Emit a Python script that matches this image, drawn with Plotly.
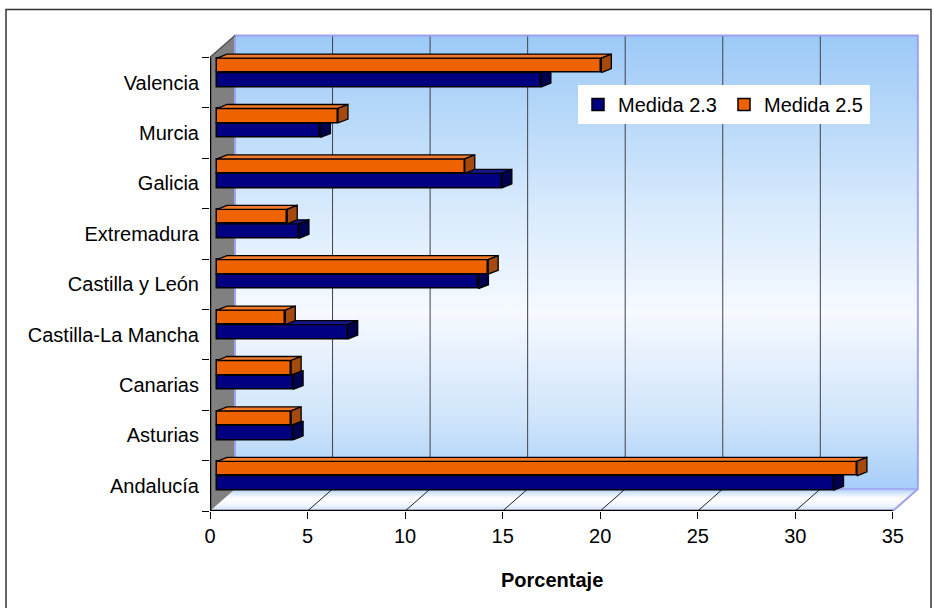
import plotly.graph_objects as go

# ---- data -----------------------------------------------------------------
regions = ["Andalucía", "Asturias", "Canarias", "Castilla-La Mancha",
           "Castilla y León", "Extremadura", "Galicia", "Murcia", "Valencia"]
medida_23 = [31.6, 3.9, 3.9, 6.7, 13.4, 4.2, 14.6, 5.3, 16.6]
medida_25 = [32.8, 3.8, 3.8, 3.5, 13.9, 3.6, 12.7, 6.2, 19.7]
x_ticks = [0, 5, 10, 15, 20, 25, 30, 35]
series_names = ["Medida 2.3", "Medida 2.5"]

# ---- geometry of the pseudo-3D box (pixels -> data units) -----------------
W, H = 934, 608
PX_X = 19.51          # pixels per percentage point
PX_Y = 50.4           # pixels per category slot
FRONT_LEFT, FRONT_BOTTOM = 210, 511
DEPTH_X, DEPTH_Y = 25, 22   # depth of the box in pixels
DX, DY = DEPTH_X / PX_X, DEPTH_Y / PX_Y
XMAX = x_ticks[-1]
n = len(regions)
Y_LO, Y_HI = -0.5, n - 0.5
PAD_X, PAD_Y = 2 / PX_X, 2 / PX_Y

x_range = [0, XMAX + DX + PAD_X]
y_range = [Y_LO, Y_HI + DY + PAD_Y]
dom_x = [FRONT_LEFT / W, (FRONT_LEFT + (x_range[1] - x_range[0]) * PX_X) / W]
dom_y = [1 - FRONT_BOTTOM / H,
         1 - (FRONT_BOTTOM - (y_range[1] - y_range[0]) * PX_Y) / H]

# bar plane sits a little inside the box
BX, BY = 7 / PX_X, 10 / PX_Y
BW = 14.5 / PX_Y      # bar thickness
CX, CY = 10 / PX_X, 4 / PX_Y   # bar depth

FONT = "Liberation Sans, Arial, sans-serif"
FS = 20
LAVENDER = "#A0A0F0"

fig = go.Figure()


def poly(xs, ys, fill, line_color=None, line_width=0, axes=("x", "y")):
    fig.add_trace(go.Scatter(
        x=xs, y=ys, mode="lines", fill="toself", fillcolor=fill,
        line=dict(color=line_color or fill, width=line_width),
        hoverinfo="skip", showlegend=False, xaxis=axes[0], yaxis=axes[1]))


def seg(xs, ys, color, width, axes=("x", "y")):
    fig.add_trace(go.Scatter(
        x=xs, y=ys, mode="lines", line=dict(color=color, width=width),
        hoverinfo="skip", showlegend=False, xaxis=axes[0], yaxis=axes[1]))


# back wall with vertical gradient
bx0, bx1 = DX, XMAX + DX
by0, by1 = Y_LO + DY, Y_HI + DY
fig.add_trace(go.Scatter(
    x=[bx0, bx1, bx1, bx0, bx0], y=[by0, by0, by1, by1, by0],
    mode="lines", line=dict(width=0), fill="toself",
    fillgradient=dict(type="vertical", start=by0, stop=by1,
                      colorscale=[[0.0, "#A6CEF8"], [0.15, "#CFE4FB"],
                                  [0.39, "#F6FAFF"], [0.63, "#D6E9FC"],
                                  [1.0, "#9CC9F7"]]),
    hoverinfo="skip", showlegend=False))

# floor with gradient
fig.add_trace(go.Scatter(
    x=[0, XMAX, XMAX + DX, DX, 0], y=[Y_LO, Y_LO, by0, by0, Y_LO],
    mode="lines", line=dict(width=0), fill="toself",
    fillgradient=dict(type="vertical", start=Y_LO, stop=by0,
                      colorscale=[[0.0, "#D0DEFA"], [0.3, "#F2F7FF"],
                                  [0.55, "#FFFFFF"], [0.8, "#D8E9FC"],
                                  [1.0, "#A8CEF6"]]),
    hoverinfo="skip", showlegend=False))

# left side wall
poly([0, DX, DX, 0, 0], [Y_LO, by0, by1, Y_HI, Y_LO], "#808080")

# gridlines on back wall and floor
gx, gy, fx, fy = [], [], [], []
for v in x_ticks[1:-1]:
    gx += [v + DX, v + DX, None]
    gy += [by0, by1, None]
    fx += [v, v + DX, None]
    fy += [Y_LO, by0, None]
seg(gx, gy, "#404048", 1)
seg(fx, fy, "#202020", 1)

# lavender edges of the box
seg([DX, DX, bx1, bx1, XMAX], [by0, by1, by1, by0, Y_LO], LAVENDER, 2)
seg([DX, bx1], [by0, by0], LAVENDER, 1.5)
# dark top edge of the side wall
seg([0, DX], [Y_HI, by1], "#404040", 1.2)
# front axis lines
seg([0, 0, XMAX], [Y_HI, Y_LO, Y_LO], "black", 2.5)


# ---- bars -------------------------------------------------------------------
def add_series(vals, name, front, top, cap, offset, axes):
    pos = [i + BY for i in range(n)]
    fig.add_trace(go.Bar(
        x=vals, y=pos, base=BX, orientation="h", width=BW, offset=offset,
        name=name, marker=dict(color=front, line=dict(color="black", width=1.5)),
        xaxis=axes[0], yaxis=axes[1], hovertemplate="%{x}<extra>" + name + "</extra>"))
    tx, ty, kx, ky = [], [], [], []
    for v, p in zip(vals, pos):
        ya, yb = p + offset, p + offset + BW
        x0, x1 = BX, BX + v
        tx += [x0, x1, x1 + CX, x0 + CX, x0, None]
        ty += [yb, yb, yb + CY, yb + CY, yb, None]
        kx += [x1, x1 + CX, x1 + CX, x1, x1, None]
        ky += [ya, ya + CY, yb + CY, yb, ya, None]
    poly(tx, ty, top, "black", 1.3, axes)
    poly(kx, ky, cap, "black", 1.3, axes)


add_series(medida_23, series_names[0], "#000080", "#16168C", "#00004E", -BW, ("x2", "y2"))
add_series(medida_25, series_names[1], "#EF6200", "#F47A2A", "#A44A0E", 0, ("x3", "y3"))

# ---- layout -----------------------------------------------------------------
overlay_axis = dict(overlaying="x", range=x_range, visible=False, fixedrange=True)
fig.update_layout(
    width=W, height=H,
    margin=dict(l=0, r=0, t=0, b=0),
    template="none",
    paper_bgcolor="white", plot_bgcolor="rgba(0,0,0,0)",
    font=dict(family=FONT, size=FS, color="black"),
    showlegend=True,
    legend=dict(orientation="h", x=578 / W, y=1 - 85 / H, xanchor="left",
                yanchor="top", bgcolor="white", borderwidth=0,
                entrywidth=101, entrywidthmode="pixels",
                font=dict(family=FONT, size=FS, color="black"),
                traceorder="normal"),
    xaxis=dict(domain=dom_x, range=x_range, showgrid=False, zeroline=False,
               showline=False, tickmode="array", tickvals=x_ticks,
               ticks="outside", ticklen=7, tickwidth=1, tickcolor="black",
               tickfont=dict(family=FONT, size=FS), automargin=False),
    yaxis=dict(domain=dom_y, range=y_range, showgrid=False, zeroline=False,
               showline=False, tickmode="array", tickvals=list(range(n)),
               ticktext=regions, ticks="", ticklabelstandoff=10,
               tickfont=dict(family=FONT, size=FS), automargin=False,
               minor=dict(tickmode="array",
                          tickvals=[i - 0.5 for i in range(n + 1)],
                          ticks="outside", ticklen=7, tickwidth=1,
                          tickcolor="black")),
    xaxis2=dict(overlay_axis),
    yaxis2=dict(overlaying="y", range=y_range, visible=False, fixedrange=True),
    xaxis3=dict(overlay_axis),
    yaxis3=dict(overlaying="y", range=y_range, visible=False, fixedrange=True),
    bargap=0,
    annotations=[dict(text="<b>Porcentaje</b>", xref="paper", yref="paper",
                      x=552 / W, y=1 - 580 / H, xanchor="center",
                      yanchor="middle", showarrow=False,
                      font=dict(family=FONT, size=FS, color="black"))],
    shapes=[dict(type="rect", xref="paper", yref="paper",
                 x0=6 / W, x1=931 / W, y0=-0.05, y1=1 - 9.5 / H,
                 line=dict(color="#333333", width=1.5), layer="below")],
)

fig.write_html("out.html")
